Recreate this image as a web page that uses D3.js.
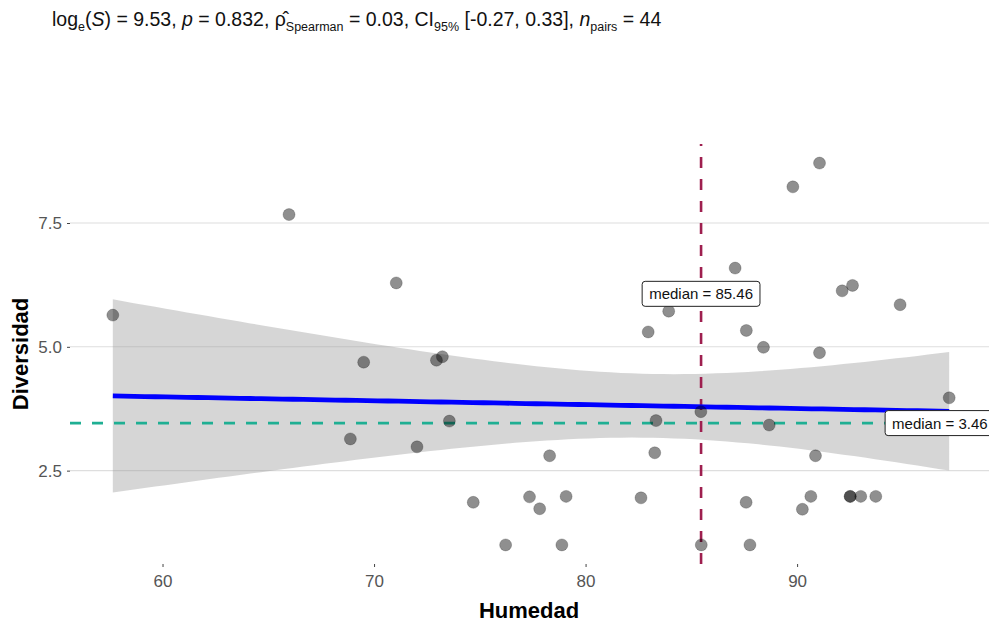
<!DOCTYPE html>
<html>
<head>
<meta charset="utf-8">
<script src="https://cdn.jsdelivr.net/npm/d3@7"></script>
<style>
    body { margin: 0; background: #fff; }
    svg { display: block; font-family: "Liberation Sans", Arial, sans-serif; }
</style>
</head>
<body>
<svg id="chart"></svg>
<script>
// values
const humedad = [57.65, 65.98, 71.05, 69.51, 72.95, 73.23, 68.88, 72.03, 73.56, 74.69,
    78.30, 77.35, 77.83, 79.08, 82.62, 76.22, 78.88, 82.96, 83.93, 83.33,
    83.27, 91.06, 89.80, 87.07, 92.13, 92.62, 94.87, 87.60, 88.41, 91.06,
    97.19, 85.45, 88.68, 90.87, 87.59, 90.65, 90.25, 92.51, 92.51, 93.01,
    93.72, 85.47, 87.77, 87.00];
const diversidad = [5.64, 7.67, 6.29, 4.69, 4.73, 4.80, 3.14, 2.98, 3.50, 1.86,
    2.80, 1.97, 1.73, 1.98, 1.95, 1.00, 1.00, 5.30, 5.72, 3.51,
    2.86, 8.71, 8.23, 6.59, 6.13, 6.24, 5.85, 5.33, 4.99, 4.88,
    3.97, 3.69, 3.42, 2.80, 1.86, 1.98, 1.72, 1.98, 1.98, 1.98,
    1.98, 1.00, 1.00, 6.10];
const xTicks = [60, 70, 80, 90];
const yTicks = [2.5, 5.0, 7.5];
const xTitle = 'Humedad';
const yTitle = 'Diversidad';
const tCrit = 2.018; // t(0.975, df = 42)

const width = 989, height = 622;
const panel = { left: 71, right: 991, top: 144, bottom: 564 };

const svg = d3.select('#chart')
    .attr('width', width)
    .attr('height', height);

const points = humedad.map((x, i) => ({ x: x, y: diversidad[i] }));

// ggplot-like 5% expansion
const expand = (ext) => {
    const pad = (ext[1] - ext[0]) * 0.05;
    return [ext[0] - pad, ext[1] + pad];
};
const xExt = d3.extent(humedad);
const x = d3.scaleLinear().domain(expand(xExt)).range([panel.left, panel.right]);
const y = d3.scaleLinear().domain(expand(d3.extent(diversidad))).range([panel.bottom, panel.top]);

// linear fit + 95% confidence band
const n = points.length;
const xbar = d3.mean(humedad), ybar = d3.mean(diversidad);
const sxx = d3.sum(humedad, v => (v - xbar) ** 2);
const sxy = d3.sum(points, d => (d.x - xbar) * (d.y - ybar));
const slope = sxy / sxx;
const intercept = ybar - slope * xbar;
const sse = d3.sum(points, d => (d.y - intercept - slope * d.x) ** 2);
const s = Math.sqrt(sse / (n - 2));
const fit = d3.range(80).map(i => {
    const xv = xExt[0] + (xExt[1] - xExt[0]) * i / 79;
    const yv = intercept + slope * xv;
    const se = s * Math.sqrt(1 / n + (xv - xbar) ** 2 / sxx);
    return { x: xv, y: yv, lo: yv - tCrit * se, hi: yv + tCrit * se };
});

const xMedian = d3.median(humedad);
const yMedian = d3.median(diversidad);

// grid
svg.append('g')
    .selectAll('line')
    .data(yTicks)
    .enter()
    .append('line')
    .attr('x1', panel.left - 1)
    .attr('x2', width)
    .attr('y1', d => y(d))
    .attr('y2', d => y(d))
    .attr('stroke', '#dedede')
    .attr('stroke-width', 1.1);

// confidence ribbon
svg.append('path')
    .datum(fit)
    .attr('d', d3.area().x(d => x(d.x)).y0(d => y(d.lo)).y1(d => y(d.hi)))
    .attr('fill', '#999')
    .attr('fill-opacity', 0.4);

// median lines
svg.append('line')
    .attr('x1', x(xMedian)).attr('x2', x(xMedian))
    .attr('y1', panel.bottom).attr('y2', panel.top)
    .attr('stroke', '#9e1f4f')
    .attr('stroke-width', 2.6)
    .attr('stroke-dasharray', '11,11');

svg.append('line')
    .attr('x1', panel.left - 1).attr('x2', width)
    .attr('y1', y(yMedian)).attr('y2', y(yMedian))
    .attr('stroke', '#1faf93')
    .attr('stroke-width', 2.6)
    .attr('stroke-dasharray', '11,11');

// regression line
svg.append('path')
    .datum(fit)
    .attr('d', d3.line().x(d => x(d.x)).y(d => y(d.y)))
    .attr('fill', 'none')
    .attr('stroke', '#0000ff')
    .attr('stroke-width', 4.8);

// points
svg.append('g')
    .selectAll('circle')
    .data(points)
    .enter()
    .append('circle')
    .attr('cx', d => x(d.x))
    .attr('cy', d => y(d.y))
    .attr('r', 6)
    .attr('fill', '#000')
    .attr('fill-opacity', 0.44)
    .attr('stroke', '#000')
    .attr('stroke-opacity', 0.2)
    .attr('stroke-width', 1);

// median labels
function medianLabel(cx, cy, value) {
    const g = svg.append('g');
    const t = g.append('text')
        .attr('x', cx)
        .attr('y', cy + 5.5)
        .attr('text-anchor', 'middle')
        .attr('font-size', '15px')
        .attr('fill', '#111')
        .text(`median = ${d3.format('.2f')(value)}`);
    const w = t.node().getComputedTextLength() + 14;
    g.insert('rect', 'text')
        .attr('x', cx - w / 2)
        .attr('y', cy - 12.5)
        .attr('width', w)
        .attr('height', 25)
        .attr('rx', 3)
        .attr('fill', '#fff')
        .attr('stroke', '#222')
        .attr('stroke-width', 1);
}
medianLabel(x(xMedian), y(6.07), xMedian);
medianLabel(x(96.75), y(yMedian), yMedian);

// axes
const xAxis = svg.append('g')
    .attr('transform', `translate(0,${panel.bottom})`)
    .call(d3.axisBottom(x).tickValues(xTicks).tickSize(3).tickPadding(8).tickFormat(d3.format('d')));
const yAxis = svg.append('g')
    .attr('transform', `translate(${panel.left - 1},0)`)
    .call(d3.axisLeft(y).tickValues(yTicks).tickSize(3).tickPadding(5).tickFormat(d3.format('.1f')));

[xAxis, yAxis].forEach(a => {
    a.select('.domain').remove();
    a.selectAll('.tick line').attr('stroke', '#444');
    a.selectAll('text')
        .attr('font-family', '"Liberation Sans", Arial, sans-serif')
        .attr('font-size', '17px')
        .attr('fill', '#555');
});

svg.append('text')
    .attr('x', (panel.left + panel.right) / 2 - 2)
    .attr('y', 618)
    .attr('text-anchor', 'middle')
    .attr('font-size', '22px')
    .attr('font-weight', 'bold')
    .attr('fill', '#000')
    .text(xTitle);

svg.append('text')
    .attr('transform', `translate(28,${(panel.top + panel.bottom) / 2}) rotate(-90)`)
    .attr('text-anchor', 'middle')
    .attr('font-size', '22px')
    .attr('font-weight', 'bold')
    .attr('fill', '#000')
    .text(yTitle);

// subtitle with statistics
const title = svg.append('text')
    .attr('x', 52)
    .attr('y', 26)
    .attr('font-size', '19.5px')
    .attr('fill', '#111');
const parts = [
    ['log'], ['e', 'sub'], ['('], ['S', 'it'], [') = 9.53, '],
    ['p', 'it'], [' = 0.832, '], ['ρ\u0302'], ['Spearman', 'sub'],
    [' = 0.03, CI'], ['95%', 'sub'], [' [-0.27, 0.33], '],
    ['n', 'it'], ['pairs', 'sub'], [' = 44']
];
let shifted = false;
parts.forEach(([txt, kind]) => {
    const ts = title.append('tspan').text(txt);
    if (kind === 'sub') {
        ts.attr('dy', shifted ? 0 : 5).attr('font-size', '12.5px');
        shifted = true;
    } else {
        if (shifted) ts.attr('dy', -5);
        shifted = false;
        if (kind === 'it') ts.attr('font-style', 'italic');
    }
});
</script>
</body>
</html>
